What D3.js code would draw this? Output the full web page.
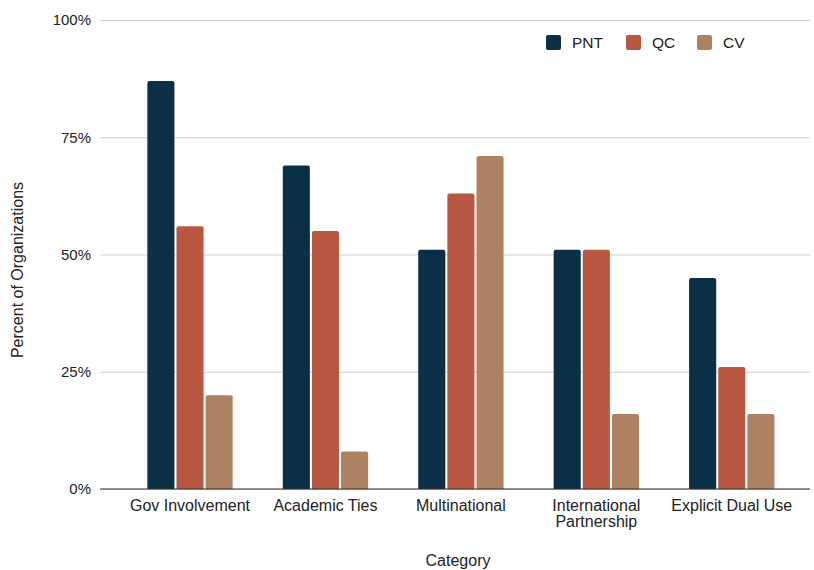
<!DOCTYPE html>
<html>
<head>
<meta charset="utf-8">
<script src="https://cdn.jsdelivr.net/npm/d3@7"></script>
<style>
  body { margin: 0; background: #fff; }
  text { font-family: "Liberation Sans", Arial, sans-serif; fill: #222; }
</style>
</head>
<body>
<div id="chart"></div>
<script>
const categories = ["Gov Involvement", "Academic Ties", "Multinational", "International Partnership", "Explicit Dual Use"]
const series = ["PNT", "QC", "CV"]
const pnt = [87, 69, 51, 51, 45]
const qc = [56, 55, 63, 51, 26]
const cv = [20, 8, 71, 16, 16]
const yTicks = [0, 25, 50, 75, 100]
const colors = ["#0c2f48", "#b85842", "#ad8263"]

const data = categories.map((c, i) => ({ category: c, PNT: pnt[i], QC: qc[i], CV: cv[i] }))

const width = 814
const height = 570
const plot = { left: 100, right: 810, top: 20, bottom: 489 }

const svg = d3.select("#chart")
  .append("svg")
  .attr("width", width)
  .attr("height", height)

// scales
const y = d3.scaleLinear().domain([0, 100]).range([plot.bottom, plot.top])
const x0 = d3.scaleBand().domain(categories).range([122.3, 799.5]).paddingInner(0.37).paddingOuter(0.185)
const x1 = d3.scaleBand().domain(series).range([0, x0.bandwidth()]).paddingInner(0.07)
const color = d3.scaleOrdinal().domain(series).range(colors)

// grid + y axis
const yAxis = d3.axisLeft(y)
  .tickValues(yTicks)
  .tickFormat((d) => d + "%")
  .tickSize(-(plot.right - plot.left))
  .tickPadding(9)

const gY = svg.append("g")
  .attr("transform", `translate(${plot.left},0)`)
  .call(yAxis)
gY.select(".domain").remove()
gY.selectAll(".tick line").attr("stroke", "#cfcfcf").attr("stroke-width", 1)
gY.selectAll(".tick text").style("font-size", "15px").attr("fill", "#222")

// bars
const groups = svg.append("g")
  .selectAll("g")
  .data(data)
  .join("g")
  .attr("transform", (d) => `translate(${x0(d.category)},0)`)

groups.selectAll("path")
  .data((d) => series.map((s) => ({ key: s, value: d[s] })))
  .join("path")
  .attr("fill", (d) => color(d.key))
  .attr("d", (d) => {
    const bx = x1(d.key), bw = x1.bandwidth()
    const top = y(d.value), bot = y(0), r = 2
    return `M${bx},${bot}V${top + r}Q${bx},${top} ${bx + r},${top}H${bx + bw - r}Q${bx + bw},${top} ${bx + bw},${top + r}V${bot}Z`
  })

// baseline
svg.append("line")
  .attr("x1", plot.left).attr("x2", plot.right)
  .attr("y1", y(0)).attr("y2", y(0))
  .attr("stroke", "#333").attr("stroke-width", 1.2)

// category labels
const xAxis = d3.axisBottom(x0).tickSize(0).tickPadding(0)
const gX = svg.append("g")
  .attr("transform", `translate(0,${plot.bottom})`)
  .call(xAxis)
gX.select(".domain").remove()
gX.selectAll(".tick text").remove()
gX.selectAll(".tick").each(function (d) {
  const words = d === "International Partnership" ? ["International", "Partnership"] : [d]
  const t = d3.select(this).append("text")
    .attr("text-anchor", "middle")
    .style("font-size", "16px")
    .attr("fill", "#222")
  words.forEach((w, i) => {
    t.append("tspan").attr("x", 0).attr("y", 22 + i * 16).text(w)
  })
})

// axis titles
svg.append("text")
  .attr("x", 458).attr("y", 566)
  .attr("text-anchor", "middle")
  .style("font-size", "16px")
  .text("Category")

svg.append("text")
  .attr("transform", "translate(23,270) rotate(-90)")
  .attr("text-anchor", "middle")
  .style("font-size", "16px")
  .text("Percent of Organizations")

// legend
const legendX = [546, 626, 697]
const legend = svg.append("g")
  .selectAll("g")
  .data(series)
  .join("g")
  .attr("transform", (d, i) => `translate(${legendX[i]},35)`)

legend.append("rect")
  .attr("width", 15).attr("height", 15)
  .attr("rx", 2)
  .attr("fill", (d) => color(d))

legend.append("text")
  .attr("x", 26).attr("y", 13)
  .style("font-size", "15.5px")
  .text((d) => d)
</script>
</body>
</html>
